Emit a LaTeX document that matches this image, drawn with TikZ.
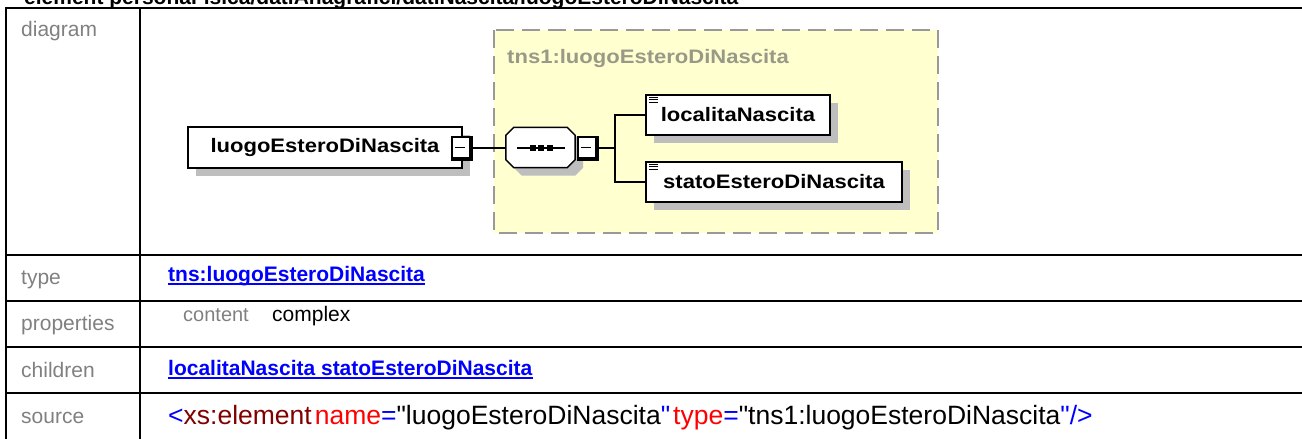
\documentclass[tikz,border=0pt]{standalone}
\usepackage{fontspec}
\setmainfont{Liberation Sans}
\newfontfamily\diafont[FakeStretch=1.13]{Liberation Sans}
\newfontfamily\srcfont{Liberation Sans}
\usetikzlibrary{shadows}
\definecolor{lbl}{RGB}{128,128,128}
\definecolor{lnk}{RGB}{0,0,255}
\definecolor{kw}{RGB}{128,0,0}
\definecolor{att}{RGB}{255,0,0}
\definecolor{cont}{RGB}{255,255,208}
\definecolor{contline}{RGB}{153,153,153}
\definecolor{contlbl}{RGB}{153,153,136}
\definecolor{shade}{RGB}{190,190,190}

\begin{document}
\begin{tikzpicture}[x=1pt, y=-1pt,
    tbl/.style={line width=2},
    rowlbl/.style={anchor=base west, inner sep=0, text=lbl, font=\fontsize{21}{25}\selectfont},
    link/.style={anchor=base west, inner sep=0, text=lnk, font=\fontsize{21}{25}\selectfont\bfseries},
    elem/.style={draw, line width=1.5, fill=white, inner sep=0, minimum height=41,
        font=\diafont\fontsize{19.5}{23}\selectfont\bfseries,
        drop shadow={shadow xshift=8pt, shadow yshift=-8pt, fill=shade, opacity=1}},
    minusbox/.style={draw, line width=1.5, fill=white, minimum width=18, minimum height=21, inner sep=0},
    conn/.style={line width=2}]
    \useasboundingbox (0,0) rectangle (1302,439);

    % heading, cut off at the top
    \begin{scope}
        \clip (0,0) rectangle (1302,7);
        \node[anchor=base west, inner sep=0, font=\fontsize{21}{25}\selectfont\bfseries] (ttl) at (24,4.5)
            {element personaFisica/datiAnagrafici/datiNascita/luogoEsteroDiNascita};
    \end{scope}

    % table
    \draw[tbl] (6,439) -- (6,8) -- (1302,8);
    \draw[tbl] (140,8) -- (140,439);
    \foreach \y in {255,301,347,393}
        \draw[tbl] (6,\y) -- (1302,\y);

    \node[rowlbl] (rdia) at (21,36) {diagram};
    \node[rowlbl] (rtyp) at (21,284) {type};
    \node[rowlbl] (rpro) at (21,330) {properties};
    \node[rowlbl] (rchi) at (21,377) {children};
    \node[rowlbl] (rsrc) at (21,423) {source};

    % values
    \node[link] (vtyp) at (168,281) {tns:luogoEsteroDiNascita};
    \draw[lnk, line width=2] ([yshift=-3]vtyp.base west) -- ([yshift=-3]vtyp.base east);
    \node[anchor=base west, inner sep=0, text=lbl, font=\fontsize{20}{24}\selectfont] (vcon) at (183,321) {content};
    \node[anchor=base west, inner sep=0, font=\fontsize{21}{25}\selectfont] (vcpx) at (272,321) {complex};
    \node[link] (vchi) at (168,375) {localitaNascita statoEsteroDiNascita};
    \draw[lnk, line width=2] ([yshift=-3]vchi.base west) -- ([yshift=-3]vchi.base east);
    \node[anchor=base west, inner sep=0, font=\srcfont\fontsize{26.5}{30}\selectfont] (vsrc) at (168,424)
        {{\color{lnk}<}{\color{kw}xs:element}\kern3pt{\color{att}name}{\color{lnk}=}"luogoEsteroDiNascita{\color{lnk}"}\kern3pt{\color{att}type}{\color{lnk}=}"tns1:luogoEsteroDiNascita{\color{lnk}"/>}};

    % diagram
    \draw[contline, fill=cont, line width=2, dash pattern=on 18 off 8] (494,30) rectangle (938,233);
    \node[anchor=base west, inner sep=0, text=contlbl, font=\diafont\fontsize{19.5}{23}\selectfont\bfseries] (clbl) at (507,63)
        {tns1:luogoEsteroDiNascita};

    \node[elem, minimum width=274] (main) at (325,147.5) {luogoEsteroDiNascita};
    \node[minusbox] (m1) at (461,147.5) {};
    \draw[line width=3.5] (m1.north east) -- (m1.south east) -- (m1.south west);
    \draw[line width=1.8] ([xshift=3.5]m1.west) -- ([xshift=-5.5]m1.east);

    \node[minimum width=69, minimum height=40, inner sep=0] (seq) at (540.5,147.5) {};
    \draw[line width=1.5, fill=white, drop shadow={shadow xshift=8pt, shadow yshift=-8pt, fill=shade, opacity=1}]
        ([xshift=8]seq.north west) -- ([xshift=-8]seq.north east) -- ([yshift=-8]seq.north east)
        -- ([yshift=8]seq.south east) -- ([xshift=-8]seq.south east) -- ([xshift=8]seq.south west)
        -- ([yshift=8]seq.south west) -- ([yshift=-8]seq.north west) -- cycle;
    \draw[line width=2] ([xshift=11]seq.west) -- ([xshift=-10]seq.east);
    \foreach \d in {-8,0,9}
        \fill ([xshift=\d]seq.center) +(-3,-3) rectangle +(3,3);
    \node[minusbox] (m2) at (587,147.5) {};
    \draw[line width=3.5] (m2.north east) -- (m2.south east) -- (m2.south west);
    \draw[line width=1.8] ([xshift=3.5]m2.west) -- ([xshift=-5.5]m2.east);

    \node[elem, minimum width=184, minimum height=40] (c1) at (738,115) {localitaNascita};
    \node[elem, minimum width=256, minimum height=40] (c2) at (774,182) {statoEsteroDiNascita};
    \foreach \n in {c1,c2}
        \foreach \s in {3,5.5,8}
            \draw[line width=1.2] ([xshift=4,yshift=-\s]\n.north west) -- ++(9,0);

    \draw[conn] (m1.east) -- (seq.west);
    \draw[conn] (m2.east) -- ++(18,0) |- (c1.west);
    \draw[conn] (m2.east) -- ++(18,0) |- (c2.west);
\end{tikzpicture}
\end{document}
